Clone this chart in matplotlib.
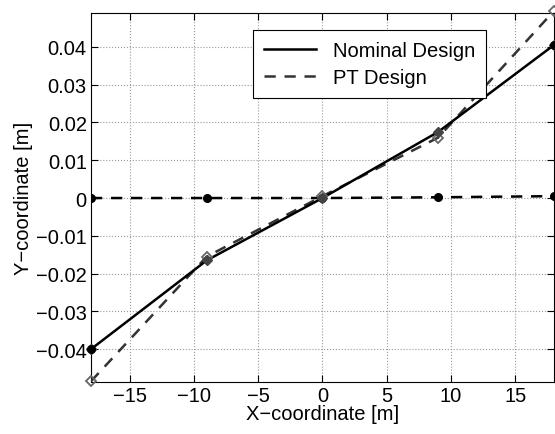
import matplotlib.pyplot as plt
import numpy as np

plt.rcParams['font.family'] = ['Liberation Sans', 'DejaVu Sans']

# node positions along the span
x_nodes = [-18, -9, 0, 9, 18]
y_nominal = [-0.0400, -0.0165, 0.0000, 0.0175, 0.0405]
y_pt = [-0.0485, -0.0155, 0.0005, 0.0160, 0.0495]
y_axis_line = [0.0000, 0.0000, 0.0000, 0.0002, 0.0005]

x_ticks = [-15, -10, -5, 0, 5, 10, 15]
y_ticks = [-0.04, -0.03, -0.02, -0.01, 0, 0.01, 0.02, 0.03, 0.04]
y_ticklabels = ['\u22120.04', '\u22120.03', '\u22120.02', '\u22120.01', '0',
                '0.01', '0.02', '0.03', '0.04']

fig = plt.figure(figsize=(5.55, 4.35), dpi=100)
ax = fig.add_axes([0.164, 0.1195, 0.834, 0.8485])

ax.plot(x_nodes, y_axis_line, '--', color='black', lw=1.8, dashes=(4.5, 3.5),
        marker='o', ms=5.5, zorder=3)
ax.plot(x_nodes, y_pt, '--', color='#333333', lw=1.8, dashes=(4.5, 3.5),
        label='PT Design', zorder=4)
ax.plot(x_nodes, y_pt, 'D', color='#666666', mfc='none', ms=5.5, mew=1.3,
        clip_on=False, zorder=5)
ax.plot(x_nodes, y_nominal, '-', color='black', lw=1.8,
        label='Nominal Design', zorder=4)
ax.plot(x_nodes, y_nominal, 'D', color='#444444', ms=5.5, clip_on=False, zorder=5)
ax.plot([x_nodes[0], x_nodes[-1]], [y_nominal[0], y_nominal[-1]], 'o',
        color='black', ms=5.5, clip_on=False, zorder=6)

ax.set_xlim(-18, 18)
ax.set_ylim(-0.0487, 0.049)
ax.set_xticks(x_ticks)
ax.set_xticklabels(['\u221215', '\u221210', '\u22125', '0', '5', '10', '15'])
ax.set_yticks(y_ticks)
ax.set_yticklabels(y_ticklabels)
ax.tick_params(direction='in', top=True, right=True, labelsize=14.5, length=5,
               pad=3)
ax.grid(True, ls=':', color='#999999', lw=0.8)

ax.set_xlabel('X\u2212coordinate [m]', fontsize=14.5, labelpad=-1)
ax.set_ylabel('Y\u2212coordinate [m]', fontsize=14.5, labelpad=2)

handles, labels = ax.get_legend_handles_labels()
leg = ax.legend(handles[::-1], labels[::-1], loc='upper right',
                bbox_to_anchor=(0.853, 0.954), borderaxespad=0, fontsize=14.5,
                fancybox=False, framealpha=1, edgecolor='black',
                handlelength=2.6, borderpad=0.55, labelspacing=0.4)
leg.get_frame().set_linewidth(0.8)

fig.savefig('out.png', dpi=100)
